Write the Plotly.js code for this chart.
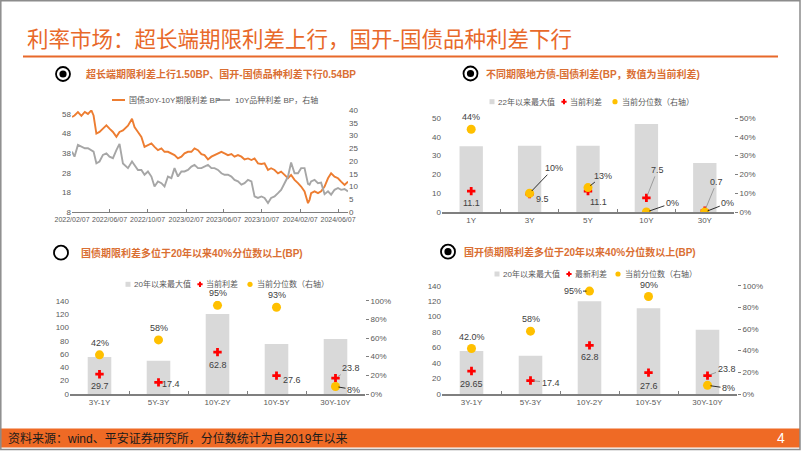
<!DOCTYPE html>
<html><head><meta charset="utf-8">
<script src="https://cdn.plot.ly/plotly-3.0.1.min.js"></script>
<style>html,body{margin:0;padding:0;background:#fff;}#chart{width:802px;height:451px;}</style>
</head><body><div id="chart"></div>
<script>
// ---------------- DATA ----------------
const lineDates = ['2022-02-07','2022-02-15','2022-02-26','2022-03-09','2022-03-20','2022-03-30','2022-04-10','2022-04-17','2022-04-26','2022-05-06','2022-05-17','2022-05-28','2022-06-07','2022-06-18','2022-06-29','2022-07-09','2022-07-20','2022-08-05','2022-08-18','2022-08-26','2022-09-06','2022-09-17','2022-09-27','2022-10-08','2022-10-19','2022-10-29','2022-11-09','2022-11-20','2022-11-30','2022-12-11','2022-12-22','2023-01-01','2023-01-12','2023-01-23','2023-02-02','2023-02-13','2023-02-24','2023-03-06','2023-03-17','2023-03-28','2023-04-07','2023-04-18','2023-04-29','2023-05-09','2023-05-20','2023-05-31','2023-06-10','2023-06-21','2023-07-02','2023-07-12','2023-07-23','2023-08-03','2023-08-13','2023-08-24','2023-09-04','2023-09-14','2023-09-25','2023-10-06','2023-10-16','2023-10-27','2023-11-06','2023-11-17','2023-11-28','2023-12-08','2023-12-19','2023-12-30','2024-01-09','2024-01-20','2024-01-31','2024-02-10','2024-02-21','2024-03-03','2024-03-08','2024-03-13','2024-03-24','2024-04-04','2024-04-14','2024-04-25','2024-05-06','2024-05-16','2024-05-27','2024-06-07','2024-06-17','2024-06-28','2024-07-09'];
const govTermSpread30y10y = [56.4,57.2,58.9,57,59,58,59.8,57.2,48,48.8,50.5,52.2,50.5,48.8,46.3,48.8,49.6,52,55.5,51.3,48.8,46.3,41.2,42,43,41.2,39.5,40.4,38.7,38.7,37.9,37,35.3,36.2,37.9,38.7,38.7,40.4,39.5,37.5,37,34.8,36.2,37,37.5,38.7,37.9,37,37.5,36.2,37,36.2,34.8,35.3,34.5,35.3,32.8,32.5,32.8,29.4,30.3,29.4,27.7,28.6,26.9,25.2,26.9,24.4,22.7,21,18.5,12.5,14.2,17.6,18.5,17.6,18.5,21,25.2,27.7,26,25.2,23.5,21.8,23.5];
const cdb10yVarietySpread = [23.7,21.7,26.3,25.6,25,25,24.3,23.7,19.1,19.8,22.4,23,21.7,21.1,24.3,26.7,19,17.2,19.8,18.5,16.5,16.5,14.6,15.9,13.9,10,12,11.3,10,13.9,13.3,17.2,13.9,15.9,15.9,16.5,17.8,18.5,17.2,17.2,17.8,18.5,17.2,17.2,16.5,15.2,14.6,14.6,13.9,12.6,12,10.7,11.3,12.6,12,6.1,5.5,6.1,5.5,3.5,5.5,6.1,7.4,8.7,11.3,13.9,19.4,15.2,15.2,17.2,17.2,11,10.7,12,12.6,11.3,11.5,7,8.1,6.8,8.7,9.4,8.7,9,8.1];
const lineTickVals = ['2022-02-07','2022-06-07','2022-10-07','2023-02-07','2023-06-07','2023-10-07','2024-02-07','2024-06-07'];
const lineTickText = ['2022/02/07','2022/06/07','2022/10/07','2023/02/07','2023/06/07','2023/10/07','2024/02/07','2024/06/07'];

const localTenors = ['1Y','3Y','5Y','10Y','30Y'];
const localMax = [35, 35.3, 35.3, 46.8, 26];
const localCurrent = [11.1, 9.5, 11.1, 7.5, 0.7];
const localPct = [0.44, 0.10, 0.13, 0.00, 0.00];
const localPctText = ['44%','10%','13%','0%','0%'];

const govTerms = ['3Y-1Y','5Y-3Y','10Y-2Y','10Y-5Y','30Y-10Y'];
const govMax = [55.5, 50, 120, 75, 82.5];
const govCurrent = [29.7, 17.4, 62.8, 27.6, 23.8];
const govPct = [0.42, 0.58, 0.95, 0.93, 0.08];
const govPctText = ['42%','58%','95%','93%','8%'];

const cdbTerms = ['3Y-1Y','5Y-3Y','10Y-2Y','10Y-5Y','30Y-10Y'];
const cdbMax = [55.6, 49.5, 120, 111, 83];
const cdbCurrent = [29.65, 17.4, 62.8, 27.6, 23.8];
const cdbPct = [0.42, 0.58, 0.95, 0.90, 0.08];
const cdbPctText = ['42.0%','58%','95%','90%','8%'];

// ---------------- STYLE / LAYOUT ----------------
const W = 802, H = 451;
const fx = v => v / W, fy = v => 1 - v / H;
const FONT = 'Liberation Sans, Arial, Noto Sans CJK SC, sans-serif';
const ORANGE = '#E8692A', SUB = '#DA6F33', GRAYTXT = '#595959';
const BARC = '#D9D9D9', REDC = '#FF0000', YELC = '#FFC000';
const LINE_O = '#ED7D31', LINE_G = '#A6A6A6';
const tickFont = {family: FONT, size: 8, color: GRAYTXT};

const traces = [];
// chart 1
traces.push({type:'scatter', mode:'lines', x: lineDates, y: govTermSpread30y10y, xaxis:'x', yaxis:'y',
  line:{color: LINE_O, width: 1.9}, name:'国债30Y-10Y期限利差 BP', showlegend:false, hoverinfo:'skip'});
traces.push({type:'scatter', mode:'lines', x: lineDates, y: cdb10yVarietySpread, xaxis:'x', yaxis:'y2',
  line:{color: LINE_G, width: 1.9}, name:'10Y品种利差 BP，右轴', showlegend:false, hoverinfo:'skip'});

function barSet(cats, maxV, cur, pct, xa, yl, yr) {
  traces.push({type:'bar', x: cats, y: maxV, xaxis: xa, yaxis: yl, width: 0.4,
    marker:{color: BARC}, showlegend:false, hoverinfo:'skip'});
  traces.push({type:'scatter', mode:'markers', x: cats, y: cur, xaxis: xa, yaxis: yl,
    marker:{symbol:'cross', size: 7, color: REDC}, showlegend:false, hoverinfo:'skip'});
  traces.push({type:'scatter', mode:'markers', x: cats, y: pct, xaxis: xa, yaxis: yr,
    marker:{symbol:'circle', size: 9, color: YELC}, showlegend:false, hoverinfo:'skip'});
}
barSet(localTenors, localMax, localCurrent, localPct, 'x2', 'y3', 'y4');
barSet(govTerms, govMax, govCurrent, govPct, 'x3', 'y5', 'y6');
barSet(cdbTerms, cdbMax, cdbCurrent, cdbPct, 'x4', 'y7', 'y8');

function catX(l, r, anchor) {
  return {domain:[fx(l), fx(r)], anchor, type:'category', range:[-0.5, 4.5], showgrid:false, zeroline:false,
    showline:true, linecolor:'#7F7F7F', linewidth:1.5, ticks:'inside', tickson:'boundaries', ticklen:3,
    tickcolor:'#7F7F7F', tickfont: tickFont, fixedrange:true};
}
function leftY(t, b, anchor, max, step) {
  return {domain:[fy(b), fy(t)], anchor, range:[0, max], dtick: step, tick0:0, showgrid:false, zeroline:false,
    showline:false, ticks:'', tickfont: tickFont, fixedrange:true};
}
function rightY(over, anchor, max, step) {
  return {overlaying: over, anchor, side:'right', range:[0, max], dtick: step, tick0:0, tickformat:'.0%',
    showgrid:false, zeroline:false, showline:false, ticks:'outside', ticklen:3, tickcolor:'#7F7F7F',
    tickfont: tickFont, fixedrange:true};
}

const layout = {
  width: W, height: H, margin:{l:0, r:0, t:0, b:0}, paper_bgcolor:'#fff', plot_bgcolor:'rgba(0,0,0,0)',
  showlegend:false, hovermode:false, font:{family: FONT},
  xaxis:{domain:[fx(72), fx(348)], anchor:'y', type:'date', range:['2022-02-07','2024-07-09'],
    tickvals: lineTickVals, ticktext: lineTickText, tickangle:0, showgrid:false, zeroline:false,
    showline:true, linecolor:'#7F7F7F', linewidth:1.2, ticks:'inside', ticklen:3, tickcolor:'#7F7F7F',
    tickfont:{family: FONT, size: 7, color: GRAYTXT}},
  yaxis:{domain:[fy(212), fy(110)], anchor:'x', range:[8, 60], tickvals:[8,18,28,38,48,58],
    showgrid:false, zeroline:false, showline:false, ticks:'', tickfont: tickFont},
  yaxis2:{overlaying:'y', anchor:'x', side:'right', range:[0, 40], dtick:5, tick0:0,
    showgrid:false, zeroline:false, showline:false, ticks:'', tickfont: tickFont},
  xaxis2: catX(442, 734, 'y3'),
  yaxis3: leftY(118, 212, 'x2', 50, 10),
  yaxis4: rightY('y3', 'x2', 0.5, 0.1),
  xaxis3: catX(70, 365, 'y5'),
  yaxis5: leftY(300.7, 394, 'x3', 140, 20),
  yaxis6: rightY('y5', 'x3', 1, 0.2),
  xaxis4: catX(442, 737, 'y7'),
  yaxis7: leftY(285.7, 394, 'x4', 140, 20),
  yaxis8: rightY('y7', 'x4', 1, 0.2),
  shapes: [], annotations: []
};
const S = layout.shapes, A = layout.annotations;

// Slide frame, title, rule, footer
S.push({type:'rect', xref:'paper', yref:'paper', x0:fx(0), x1:fx(800), y0:fy(447.5), y1:fy(428.5),
  fillcolor:'#EF6A25', line:{width:0}, layer:'below'});
S.push({type:'rect', xref:'paper', yref:'paper', x0:fx(0.8), x1:fx(800), y0:fy(449.5), y1:fy(0.8),
  fillcolor:'rgba(0,0,0,0)', line:{color:'#8C8C8C', width:1.5}});
S.push({type:'line', xref:'paper', yref:'paper', x0:fx(23), x1:fx(778), y0:fy(56.5), y1:fy(56.5),
  line:{color: ORANGE, width:2.2}});
A.push({xref:'paper', yref:'paper', x:fx(25), y:fy(38), xanchor:'left', yanchor:'middle', showarrow:false,
  text:'利率市场：超长端期限利差上行，国开-国债品种利差下行', font:{family:'Noto Sans CJK SC, sans-serif', size:21.5, color: ORANGE}});
A.push({xref:'paper', yref:'paper', x:fx(6), y:fy(438.5), xanchor:'left', yanchor:'middle', showarrow:false,
  text:'资料来源：wind、平安证券研究所，分位数统计为自2019年以来', font:{family: FONT, size:12, color:'#1a1a1a'}});
A.push({xref:'paper', yref:'paper', x:fx(781), y:fy(438), xanchor:'center', yanchor:'middle', showarrow:false,
  text:'4', font:{family: FONT, size:14, color:'#ffffff'}});

// Icons and subtitles
function icon(cx, cy, dot) {
  const r = 7;
  S.push({type:'circle', xref:'paper', yref:'paper', x0:fx(cx-r), x1:fx(cx+r), y0:fy(cy+r), y1:fy(cy-r),
    line:{color:'#000', width:1.8}, fillcolor:'rgba(0,0,0,0)'});
  if (dot) S.push({type:'circle', xref:'paper', yref:'paper', x0:fx(cx-3.6), x1:fx(cx+3.6), y0:fy(cy+3.6), y1:fy(cy-3.6),
    line:{width:0}, fillcolor:'#000'});
}
function subtitle(x, y, text) {
  A.push({xref:'paper', yref:'paper', x:fx(x), y:fy(y), xanchor:'left', yanchor:'middle', showarrow:false,
    text:'<b>'+text+'</b>', font:{family: FONT, size:10, color: SUB}});
}
icon(63, 74, true);  subtitle(84, 73.5, '超长端期限利差上行1.50BP、国开-国债品种利差下行0.54BP');
icon(470.5, 73.5, true); subtitle(484, 73.5, '不同期限地方债-国债利差(BP，数值为当前利差)');
icon(61, 252.7, false); subtitle(79, 252.7, '国债期限利差多位于20年以来40%分位数以上(BP)');
icon(448, 251.7, true); subtitle(462, 251.7, '国开债期限利差多位于20年以来40%分位数以上(BP)');

// Legends
const legFont = {family: FONT, size: 8, color: GRAYTXT};
function legText(x, y, text) {
  A.push({xref:'paper', yref:'paper', x:fx(x), y:fy(y), xanchor:'left', yanchor:'middle', showarrow:false, text, font: legFont});
}
function legLine(x0, x1, y, color) {
  S.push({type:'line', xref:'paper', yref:'paper', x0:fx(x0), x1:fx(x1), y0:fy(y), y1:fy(y), line:{color, width:2}});
}
function legSquare(cx, cy) {
  S.push({type:'rect', xref:'paper', yref:'paper', x0:fx(cx-2.5), x1:fx(cx+2.5), y0:fy(cy+2.5), y1:fy(cy-2.5), fillcolor: BARC, line:{width:0}});
}
function legCross(cx, cy) {
  const a = 2.6, b = 1.0;
  const p = [[cx-b,cy-a],[cx+b,cy-a],[cx+b,cy-b],[cx+a,cy-b],[cx+a,cy+b],[cx+b,cy+b],[cx+b,cy+a],[cx-b,cy+a],[cx-b,cy+b],[cx-a,cy+b],[cx-a,cy-b],[cx-b,cy-b]];
  S.push({type:'path', xref:'paper', yref:'paper', path:'M'+p.map(q=>fx(q[0])+','+fy(q[1])).join('L')+'Z', fillcolor: REDC, line:{width:0}});
}
function legDot(cx, cy) {
  S.push({type:'circle', xref:'paper', yref:'paper', x0:fx(cx-2.6), x1:fx(cx+2.6), y0:fy(cy+2.6), y1:fy(cy-2.6), fillcolor: YELC, line:{width:0}});
}
legLine(112, 125, 100, LINE_O); legText(127, 100, '国债30Y-10Y期限利差 BP');
legLine(217, 230, 100, LINE_G); legText(233, 100, '10Y品种利差 BP，右轴');

function barLegend(y, xs, names) {
  legSquare(xs[0], y); legText(xs[0]+3.5, y, names[0]);
  legCross(xs[1], y);  legText(xs[1]+4, y, names[1]);
  legDot(xs[2], y);    legText(xs[2]+4.5, y, names[2]);
}
barLegend(101.7, [492, 564, 615], ['22年以来最大值','当前利差','当前分位数（右轴）']);
barLegend(284.3, [128, 200, 250], ['20年以来最大值','当前利差','当前分位数（右轴）']);
barLegend(274, [497, 569, 618], ['20年以来最大值','最新利差','当前分位数（右轴）']);

// Data labels (offsets in px: dx, dy(down), leader colour or null)
function lbl(xref, yref, x, y, text, o) {
  const a = {xref, yref, x, y, text, font:{family: FONT, size: 9, color:'#404040'}};
  if (o[2]) Object.assign(a, {showarrow:true, ax:o[0], ay:o[1], arrowhead:0, arrowwidth:0.8, arrowcolor:o[2], standoff:3});
  else Object.assign(a, {showarrow:false, xshift:o[0], yshift:-o[1]});
  A.push(a);
}
const BLK = '#000000', GLD = '#8C8C8C';
function labelSet(cats, cur, pct, pctText, xa, yl, yr, curOff, pctOff) {
  cats.forEach((c, i) => {
    lbl(xa, yl, c, cur[i], String(cur[i]), curOff[i]);
    lbl(xa, yr, c, pct[i], pctText[i], pctOff[i]);
  });
}
labelSet(localTenors, localCurrent, localPct, localPctText, 'x2', 'y3', 'y4',
  [[0,12,null],[13,5,null],[10,11,null],[11,-28,GLD],[12,-29,GLD]],
  [[0,-12,null],[24,-25,BLK],[15,-12,BLK],[26,-9,BLK],[23,-9,BLK]]);
labelSet(govTerms, govCurrent, govPct, govPctText, 'x3', 'y5', 'y6',
  [[0,12,null],[12,2,null],[0,13,null],[15,4,null],[15,-10,GLD]],
  [[0,-12,null],[0,-12,null],[0,-12,null],[0,-12,null],[18,3,BLK]]);
labelSet(cdbTerms, cdbCurrent, cdbPct, cdbPctText, 'x4', 'y7', 'y8',
  [[0,13,null],[20,2,GLD],[0,12,null],[0,13,null],[19,-7,GLD]],
  [[0,-12,null],[0,-12,null],[-17,0,BLK],[0,-12,null],[21,3,BLK]]);

Plotly.newPlot('chart', traces, layout, {staticPlot:true, displayModeBar:false});
</script>
</body></html>
